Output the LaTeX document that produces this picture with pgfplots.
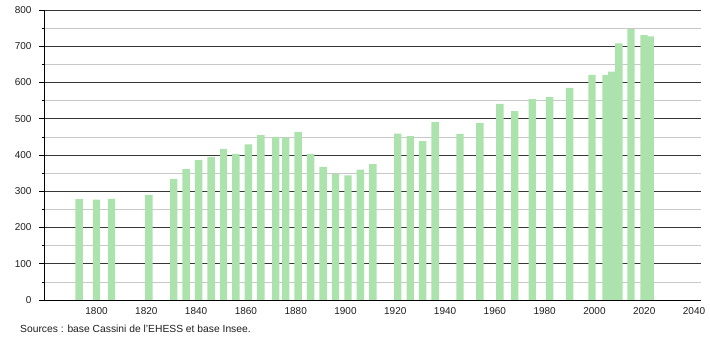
\documentclass[border=0pt]{standalone}
\usepackage{fontspec}
\setmainfont{Liberation Sans}
\usepackage{pgfplots}
\pgfplotsset{compat=1.18}
\definecolor{bargreen}{RGB}{172,226,172}
\definecolor{majgrid}{RGB}{55,55,55}
\definecolor{mingrid}{RGB}{200,200,200}
\definecolor{txt}{RGB}{30,30,30}
\pgfplotstableread{
year pop
1793 278
1800 277
1806 279
1821 290
1831 334
1836 361
1841 386
1846 395
1851 417
1856 403
1861 429
1866 455
1872 450
1876 448
1881 464
1886 403
1891 367
1896 348
1901 344
1906 360
1911 375
1921 459
1926 452
1931 438
1936 491
1946 458
1954 488
1962 541
1968 521
1975 554
1982 560
1990 585
1999 621
2004.7 621
2007 630
2009.8 708
2014.7 747
2019.9 731
2022.4 727
}\popdata
\begin{document}
\begin{tikzpicture}[x=1pt,y=1pt]
\begin{axis}[
  scale only axis,
  width=657pt, height=290pt,
  xmin=1778.9, xmax=2042.8,
  ymin=0, ymax=800,
  axis x line*=bottom,
  axis y line*=left,
  axis line style={black, line width=0.8pt, -},
  xtick={1800,1820,...,2040},
  xticklabel style={/pgf/number format/1000 sep={}},
  x tick label style={font=\fontsize{10}{11}\selectfont\color{txt}, yshift=1pt},
  ytick={0,100,...,800},
  minor y tick num=1,
  y tick label style={font=\fontsize{10}{11}\selectfont\color{txt}, xshift=-4pt},
  /pgf/number format/assume math mode=true,
  tick align=outside,
  xtick style={draw=none},
  ytick style={black, line width=0.6pt},
  major tick length=5pt,
  minor tick length=2pt,
  ymajorgrids, yminorgrids,
  major grid style={majgrid, line width=0.7pt},
  minor grid style={mingrid, line width=0.7pt},
  axis on top=false,
  clip=false,
]
\addplot[ybar, bar width=7.4pt, fill=bargreen, draw=none] table[x=year,y=pop] {\popdata};
\end{axis}
\node[anchor=base west, font=\fontsize{10.3}{11}\selectfont, text=txt, inner sep=0pt] at (-24pt,-32.5pt) {Sources : base Cassini de l'EHESS et base Insee.};
\path (-44pt,-40pt) rectangle (666pt,300pt);
\end{tikzpicture}
\end{document}
